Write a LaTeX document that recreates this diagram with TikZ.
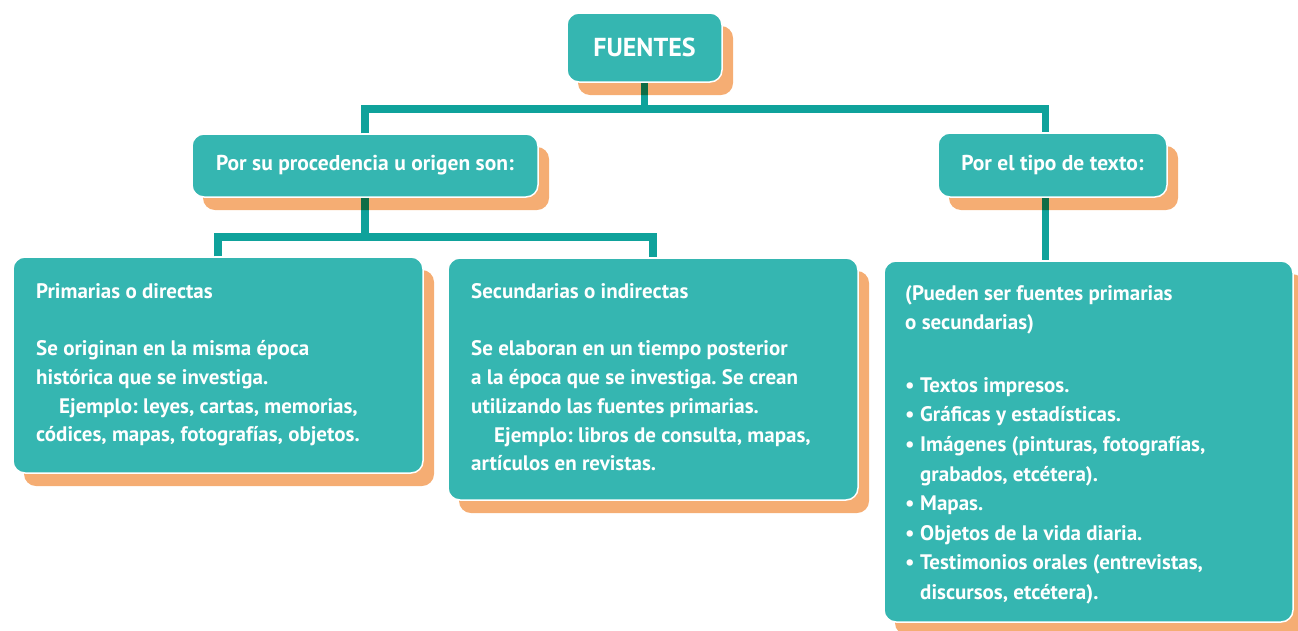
\documentclass[tikz,border=0pt]{standalone}
\usepackage{fontspec}
\setmainfont{PT Sans}
\frenchspacing
\usetikzlibrary{shadows}
\definecolor{verdecaja}{HTML}{35B6B1}
\definecolor{verdelinea}{HTML}{0FA29B}
\definecolor{naranja}{HTML}{F5AD73}
\newcommand{\bul}{\makebox[15pt][l]{•}}
\tikzset{
  caja/.style = {fill=verdecaja, draw=white, line width=1.5pt, rounded corners=12pt, text=white,
    font=\bfseries\fontsize{21.5}{26}\selectfont, inner sep=0pt,
    drop shadow={shadow xshift=11pt, shadow yshift=-13pt, fill=naranja, opacity=1}},
  texto/.style = {text=white, font=\bfseries\fontsize{21}{28.7}\selectfont, align=left, inner sep=0pt, anchor=north west},
  conector/.style = {draw=verdelinea, line width=7.5pt, blend mode=multiply}
}
\begin{document}
\begin{tikzpicture}[x=1pt, y=-1pt]
    \useasboundingbox (0,0) rectangle (1298,630);
    \node[caja, minimum width=155pt, minimum height=69pt, font=\bfseries\fontsize{26}{28}\selectfont] (fuentes) at (644.5,47.5) {FUENTES};
    \node[caja, minimum width=346pt, minimum height=63pt] (origen) at (365,165.5) {Por su procedencia u origen son:};
    \node[caja, minimum width=229pt, minimum height=64pt] (tipo) at (1052.5,165) {Por el tipo de texto:};
    \node[caja, minimum width=410pt, minimum height=216pt] (prim) at (218,365) {};
    \node[caja, minimum width=410pt, minimum height=242pt] (secu) at (653,379) {};
    \node[caja, minimum width=409pt, minimum height=361pt] (lista) at (1088.5,441.5) {};
    \coordinate (barra) at (0,109);
    \coordinate (barra2) at (0,237);
    \draw[conector] (fuentes.south) -- (fuentes.south |- barra)
        (origen.north) |- (fuentes.south |- barra) -| ([xshift=-7pt]tipo.north);
    \draw[conector] (origen.south) -- (origen.south |- barra2)
        (prim.north) |- (origen.south |- barra2) -| (secu.north);
    \draw[conector] ([xshift=-7pt]tipo.south) -- ([xshift=-7pt]tipo.south |- lista.north);
    \node[texto] (primtxt) at (36,283) {Primarias o directas\\[29pt]
        Se originan en la misma época\\
        histórica que se investiga.\\
        \hspace*{23pt}Ejemplo: leyes, cartas, memorias,\\
        códices, mapas, fotografías, objetos.};
    \node[texto] (secutxt) at (471,283) {Secundarias o indirectas\\[29pt]
        Se elaboran en un tiempo posterior\\
        a la época que se investiga. Se crean\\
        utilizando las fuentes primarias.\\
        \hspace*{23pt}Ejemplo: libros de consulta, mapas,\\
        artículos en revistas.};
    \node[texto, font=\bfseries\fontsize{21}{29.6}\selectfont] (listatxt) at (905,285) {(Pueden ser fuentes primarias\\
        o secundarias)\\[33pt]
        \bul Textos impresos.\\
        \bul Gráficas y estadísticas.\\
        \bul Imágenes (pinturas, fotografías,\\
        \hspace*{15pt}grabados, etcétera).\\
        \bul Mapas.\\
        \bul Objetos de la vida diaria.\\
        \bul Testimonios orales (entrevistas,\\
        \hspace*{15pt}discursos, etcétera).};
\end{tikzpicture}
\end{document}
